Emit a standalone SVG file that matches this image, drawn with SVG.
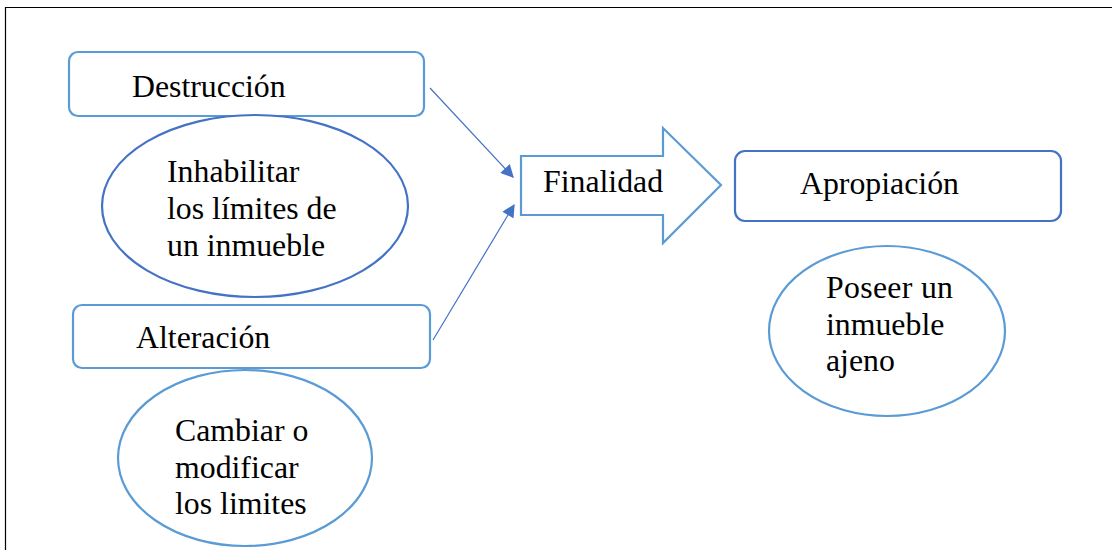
<svg xmlns="http://www.w3.org/2000/svg" width="1112" height="550" viewBox="0 0 1112 550">
<style>
.t{font-family:"Liberation Serif","Times New Roman",serif;font-size:31.8px;fill:#000}
.lb{fill:#fff;stroke:#5B9BD5;stroke-width:2.2}
.db{fill:#fff;stroke:#4472C4;stroke-width:2.2}
.con{stroke:#4472C4;stroke-width:1.2;fill:none}
</style>
<defs>
<marker id="ah" viewBox="0 0 10 10" refX="9" refY="5" markerWidth="14" markerHeight="13" markerUnits="userSpaceOnUse" orient="auto">
<path d="M0,0 L10,5 L0,10 z" fill="#4472C4"/>
</marker>
</defs>
<rect width="1112" height="550" fill="#fff"/>
<path d="M5.5,550 V7.5 H1112" fill="none" stroke="#000" stroke-width="1.2"/>
<g id="destruccion">
<rect class="lb" x="69" y="52" width="355" height="64" rx="9"/>
<text class="t" x="132" y="97">Destrucción</text>
</g>
<g id="inhabilitar">
<ellipse class="db" cx="255" cy="206" rx="153" ry="91"/>
<text class="t" x="167" y="182">Inhabilitar</text>
<text class="t" x="167" y="219">los límites de</text>
<text class="t" x="167" y="256">un inmueble</text>
</g>
<g id="alteracion">
<rect class="lb" x="73" y="305" width="357" height="63" rx="9"/>
<text class="t" x="136" y="348">Alteración</text>
</g>
<g id="cambiar">
<ellipse class="lb" cx="245" cy="458" rx="127" ry="88"/>
<text class="t" x="175" y="441">Cambiar o</text>
<text class="t" x="175" y="478">modificar</text>
<text class="t" x="175" y="514">los limites</text>
</g>
<g id="finalidad">
<path class="lb" d="M521,156 H663 V128 L721,185 L663,243 V215 H521 Z"/>
<text class="t" x="543" y="192">Finalidad</text>
</g>
<g id="apropiacion">
<rect class="db" x="735" y="151" width="326" height="70" rx="10"/>
<text class="t" x="800" y="194">Apropiación</text>
</g>
<g id="poseer">
<ellipse class="lb" cx="887" cy="331" rx="118" ry="85"/>
<text class="t" x="826" y="298" textLength="127">Poseer un</text>
<text class="t" x="826" y="335">inmueble</text>
<text class="t" x="826" y="371">ajeno</text>
</g>
<g id="connectors">
<line class="con" x1="430" y1="88" x2="513" y2="177" marker-end="url(#ah)"/>
<line class="con" x1="433" y1="340" x2="514" y2="205" marker-end="url(#ah)"/>
</g>
</svg>
